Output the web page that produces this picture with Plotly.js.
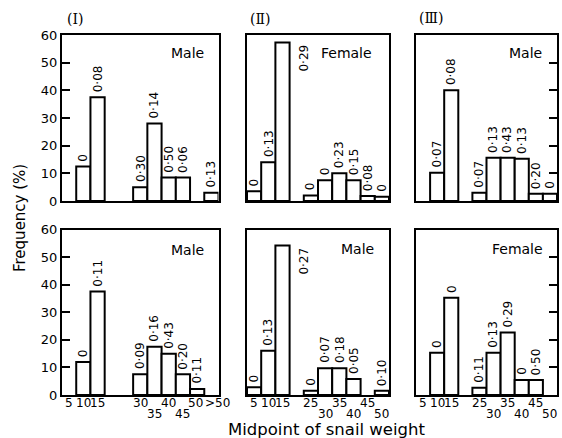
<!DOCTYPE html>
<html>
<head>
<meta charset="utf-8">
<script src="https://cdn.plot.ly/plotly-3.0.1.min.js"></script>
<style>html,body{margin:0;padding:0;background:#fff}#chart{width:562px;height:438px}</style>
</head>
<body>
<div id="chart"></div>
<script>
// ---- data (bin midpoints, frequency %, and printed prevalence label) ----
// Panel I, top (Male)
const binsTopI   = [10, 15, 30, 35, 40, 45, 55];
const freqTopI   = [12.5, 37.5, 5, 28, 8.5, 8.5, 3];
const labTopI    = ["0", "0·08", "0·30", "0·14", "0·50", "0·06", "0·13"];
// Panel II, top (Female)
const binsTopII  = [5, 10, 15, 25, 30, 35, 40, 45, 50];
const freqTopII  = [3.5, 14, 57.3, 2, 7.5, 10, 7.5, 1.8, 1.5];
const labTopII   = ["0", "0·13", "0·29", "0", "0", "0·23", "0·15", "0·08", "0"];
// Panel III, top (Male)
const binsTopIII = [10, 15, 25, 30, 35, 40, 45, 50];
const freqTopIII = [10.2, 40, 3, 15.6, 15.6, 15.3, 2.6, 2.6];
const labTopIII  = ["0·07", "0·08", "0·07", "0·13", "0·43", "0·13", "0·20", "0"];
// Panel I, bottom (Male)
const binsBotI   = [10, 15, 30, 35, 40, 45, 50];
const freqBotI   = [12, 37.5, 7.5, 17.5, 15, 7.5, 2.2];
const labBotI    = ["0", "0·11", "0·09", "0·16", "0·43", "0·20", "0·11"];
// Panel II, bottom (Male)
const binsBotII  = [5, 10, 15, 25, 30, 35, 40, 50];
const freqBotII  = [2.8, 16, 54.2, 1.5, 9.7, 9.7, 5.8, 1.5];
const labBotII   = ["0", "0·13", "0·27", "0", "0·07", "0·18", "0·05", "0·10"];
// Panel III, bottom (Female)
const binsBotIII = [10, 15, 25, 30, 35, 40, 45];
const freqBotIII = [15.3, 35.3, 2.6, 15.3, 22.7, 5.4, 5.4];
const labBotIII  = ["0", "0", "0·11", "0·13", "0·29", "0", "0·50"];

// tick labels of bottom row (upper line and lower, staggered line)
const ticksI_upper    = [5, 10, 15, 30, 40, 50, 55];
const ticksI_upperTxt = ["5", "10", "15", "30", "40", "50", ">50"];
const ticksI_lower    = [35, 45];
const ticksI_lowerTxt = ["35", "45"];
const ticksII_upper    = [5, 10, 15, 25, 35, 45];
const ticksII_upperTxt = ["5", "10", "15", "25", "35", "45"];
const ticksII_lower    = [30, 40, 50];
const ticksII_lowerTxt = ["30", "40", "50"];

const sexLabels = ["Male", "Female", "Male", "Male", "Male", "Female"];
const panelNames = ["(Ⅰ)", "(Ⅱ)", "(Ⅲ)"];
const yTicks = [0, 10, 20, 30, 40, 50, 60];

// ---- layout helpers ----
const W = 562, H = 438;
const fx = p => p / W;
const fy = p => 1 - p / H;
const FONT = "DejaVu Sans, sans-serif";

const colsPx = [[62, 218.5], [247, 389], [416, 557]];
const rowsPx = [[35, 201], [229.5, 395]];
const xRanges = [[2.5, 57.5], [2.5, 52.5], [2.5, 52.5]];

const panels = [
  {b: binsTopI, f: freqTopI, l: labTopI},
  {b: binsTopII, f: freqTopII, l: labTopII},
  {b: binsTopIII, f: freqTopIII, l: labTopIII},
  {b: binsBotI, f: freqBotI, l: labBotI},
  {b: binsBotII, f: freqBotII, l: labBotII},
  {b: binsBotIII, f: freqBotIII, l: labBotIII}
];

const traces = [];
const layout = {
  width: W, height: H,
  margin: {l: 0, r: 0, t: 0, b: 0},
  paper_bgcolor: "#fff", plot_bgcolor: "#fff",
  showlegend: false,
  font: {family: FONT, color: "#000"},
  annotations: [],
  bargap: 0
};

function tickAnn(xa, v, t, ypx, shift) {
  layout.annotations.push({
    xref: xa, yref: "paper", x: v, y: fy(ypx), text: t,
    showarrow: false, xanchor: "center", yanchor: "middle",
    xshift: shift || 0,
    font: {family: FONT, size: 12, color: "#000"}
  });
}

panels.forEach((p, i) => {
  const n = i + 1;
  const col = i % 3, row = Math.floor(i / 3);
  const xa = "x" + (n === 1 ? "" : n), ya = "y" + (n === 1 ? "" : n);
  traces.push({
    type: "bar", x: p.b, y: p.f, width: 5,
    xaxis: xa, yaxis: ya,
    marker: {color: "#fff", line: {color: "#000", width: 2}},
    hoverinfo: "skip"
  });
  const xKey = "xaxis" + (n === 1 ? "" : n), yKey = "yaxis" + (n === 1 ? "" : n);
  layout[xKey] = {
    domain: [fx(colsPx[col][0]), fx(colsPx[col][1])],
    range: xRanges[col], anchor: ya,
    showline: true, mirror: true, linewidth: 2, linecolor: "#000",
    showgrid: false, zeroline: false, ticks: "",
    showticklabels: false,
    fixedrange: true
  };
  if (row === 1) {
    const uv = col === 0 ? ticksI_upper : ticksII_upper;
    const ut = col === 0 ? ticksI_upperTxt : ticksII_upperTxt;
    const lv = col === 0 ? ticksI_lower : ticksII_lower;
    const lt = col === 0 ? ticksI_lowerTxt : ticksII_lowerTxt;
    // the last two labels of panel I ("50>50") are squeezed apart slightly
    uv.forEach((v, k) => {
      let s = 0;
      if (col === 0 && k === uv.length - 1) s = 6;
      if (col === 0 && k === uv.length - 2) s = -2;
      tickAnn(xa, v, ut[k], 402.5, s);
    });
    lv.forEach((v, k) => tickAnn(xa, v, lt[k], 414, 0));
  }
  layout[yKey] = {
    domain: [fy(rowsPx[row][1]), fy(rowsPx[row][0])],
    range: [0, 60], anchor: xa,
    showline: true, mirror: true, linewidth: 2, linecolor: "#000",
    showgrid: false, zeroline: false,
    tickmode: "array", tickvals: yTicks,
    ticks: col === 1 ? "" : "inside", ticklen: 8, tickwidth: 2, tickcolor: "#000",
    showticklabels: col === 0,
    side: col === 2 ? "right" : "left",
    tickfont: {family: FONT, size: 13, color: "#000"},
    fixedrange: true
  };

  // value labels, rotated
  p.b.forEach((xv, k) => {
    const v = p.f[k];
    const beside = v > 50;
    layout.annotations.push({
      xref: xa, yref: ya,
      x: beside ? xv + 2.5 : xv, y: v,
      text: p.l[k], textangle: -90, showarrow: false,
      xanchor: beside ? "left" : "center",
      yanchor: beside ? "top" : "bottom",
      xshift: beside ? 5 : 0, yshift: beside ? 0 : 3,
      font: {family: FONT, size: 12, color: "#000"}
    });
  });
});

// Sex labels
const sexPos = [[187, 53], [346, 53], [525, 53], [187, 250], [358, 249], [517, 249]];
sexLabels.forEach((s, i) => layout.annotations.push({
  xref: "paper", yref: "paper", x: fx(sexPos[i][0]), y: fy(sexPos[i][1]),
  text: s, showarrow: false, xanchor: "center", yanchor: "middle",
  font: {family: FONT, size: 14, color: "#000"}
}));
// Panel names
const namePos = [[75, 19], [260, 19], [431, 18]];
panelNames.forEach((s, i) => layout.annotations.push({
  xref: "paper", yref: "paper", x: fx(namePos[i][0]), y: fy(namePos[i][1]),
  text: s, showarrow: false, xanchor: "center", yanchor: "middle",
  font: {family: "DejaVu Serif, serif", size: 14, color: "#000"}
}));
// Axis titles
layout.annotations.push({
  xref: "paper", yref: "paper", x: fx(327), y: fy(429),
  text: "Midpoint of snail weight", showarrow: false,
  xanchor: "center", yanchor: "middle",
  font: {family: FONT, size: 16.5, color: "#000"}
});
layout.annotations.push({
  xref: "paper", yref: "paper", x: fx(20), y: fy(218),
  text: "Frequency (%)", textangle: -90, showarrow: false,
  xanchor: "center", yanchor: "middle",
  font: {family: FONT, size: 15, color: "#000"}
});

Plotly.newPlot("chart", traces, layout, {staticPlot: true, displayModeBar: false});
</script>
</body>
</html>
